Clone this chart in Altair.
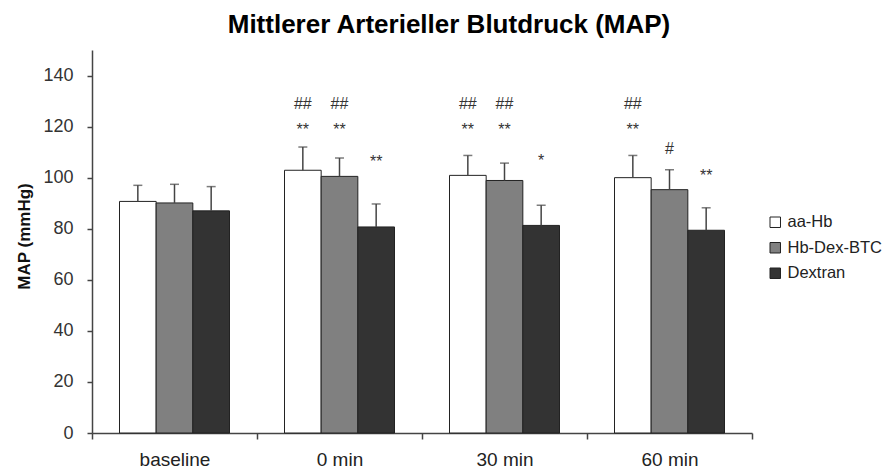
import altair as alt
import pandas as pd

groups = ["baseline", "0 min", "30 min", "60 min"]
series = ["aa-Hb", "Hb-Dex-BTC", "Dextran"]
colors = ["#ffffff", "#808080", "#333333"]

mean_aa = [90.7, 102.9, 100.9, 100.0]
mean_hb = [90.1, 100.5, 98.9, 95.3]
mean_dx = [87.0, 80.7, 81.3, 79.4]
sd_aa = [6.3, 9.1, 7.8, 8.7]
sd_hb = [7.3, 7.2, 6.8, 7.8]
sd_dx = [9.5, 9.0, 7.9, 8.8]

ann_group = ["0 min", "0 min", "0 min", "0 min", "0 min",
             "30 min", "30 min", "30 min", "30 min", "30 min",
             "60 min", "60 min", "60 min", "60 min"]
ann_series = ["aa-Hb", "aa-Hb", "Hb-Dex-BTC", "Hb-Dex-BTC", "Dextran",
              "aa-Hb", "aa-Hb", "Hb-Dex-BTC", "Hb-Dex-BTC", "Dextran",
              "aa-Hb", "aa-Hb", "Hb-Dex-BTC", "Dextran"]
ann_text = ["##", "**", "##", "**", "**",
            "##", "**", "##", "**", "*",
            "##", "**", "#", "**"]
ann_y = [129.0, 118.5, 129.0, 118.5, 106.2,
         128.7, 118.5, 128.7, 118.5, 106.5,
         128.7, 118.5, 111.3, 100.5]

rows = []
for s, means, sds in zip(series, [mean_aa, mean_hb, mean_dx], [sd_aa, sd_hb, sd_dx]):
    for g, m, sd in zip(groups, means, sds):
        rows.append({"group": g, "series": s, "mean": m, "upper": m + sd})
df = pd.DataFrame(rows)
ann = pd.DataFrame({"group": ann_group, "series": ann_series, "text": ann_text, "y": ann_y})

FONT = "Liberation Sans"

x_enc = alt.X("group:N", sort=groups,
              scale=alt.Scale(paddingInner=0, paddingOuter=0),
              axis=alt.Axis(title=None, labelAngle=0, tickBand="extent", tickSize=6,
                            labelFontSize=19, labelColor="#222", labelFont=FONT,
                            labelPadding=11, domainColor="#444", tickColor="#444",
                            domainWidth=1.5, tickWidth=1.5, grid=False))
xo_enc = alt.XOffset("series:N", sort=series,
                     scale=alt.Scale(domain=series, paddingOuter=0.75, paddingInner=0))
y_scale = alt.Scale(domain=[0, 150], nice=False)

bars = alt.Chart(df).mark_bar(stroke="#222", strokeWidth=1).encode(
    x=x_enc,
    xOffset=xo_enc,
    y=alt.Y("mean:Q", scale=y_scale,
            axis=alt.Axis(title="MAP (mmHg)", values=[0, 20, 40, 60, 80, 100, 120, 140],
                          tickSize=5, labelPadding=14, labelFontSize=18, labelColor="#333",
                          labelFont=FONT, titleFont=FONT, titleFontSize=17,
                          titleFontWeight="bold", titleColor="#111", titlePadding=9,
                          titleY=186,
                          domainColor="#444", tickColor="#444", domainWidth=1.5,
                          tickWidth=1.5, grid=False)),
    fill=alt.Fill("series:N", sort=series,
                  scale=alt.Scale(domain=series, range=colors),
                  legend=alt.Legend(title=None, orient="none", legendX=675, legendY=164,
                                    symbolType="square", symbolSize=110,
                                    symbolStrokeColor="#222", symbolStrokeWidth=1,
                                    labelFontSize=16.5, labelFont=FONT, labelColor="#222",
                                    labelOffset=4, rowPadding=8.5, padding=0)),
)

rules = alt.Chart(df).mark_rule(color="#444", strokeWidth=1.5).encode(
    x=alt.X("group:N", sort=groups), xOffset=alt.XOffset("series:N", sort=series),
    y="mean:Q", y2="upper:Q",
)

caps = alt.Chart(df).mark_tick(color="#444", thickness=1.5, size=9, orient="horizontal").encode(
    x=alt.X("group:N", sort=groups), xOffset=alt.XOffset("series:N", sort=series),
    y="upper:Q",
)

texts = alt.Chart(ann).mark_text(fontSize=16, font=FONT, color="#333", baseline="middle").encode(
    x=alt.X("group:N", sort=groups), xOffset=alt.XOffset("series:N", sort=series),
    y="y:Q", text="text:N",
)

chart = alt.layer(bars, rules, caps, texts).properties(
    width=660, height=383,
    autosize=alt.AutoSizeParams(type="none"),
    padding={"left": 84, "top": 42, "right": 132, "bottom": 40},
    title=alt.TitleParams("Mittlerer Arterieller Blutdruck (MAP)", font=FONT, fontSize=26,
                          fontWeight="bold", color="#000", anchor="middle", dx=27, offset=12),
    background="white",
).configure_view(stroke=None)

chart.save("out.html", embed_options={"renderer": "svg", "actions": False})
